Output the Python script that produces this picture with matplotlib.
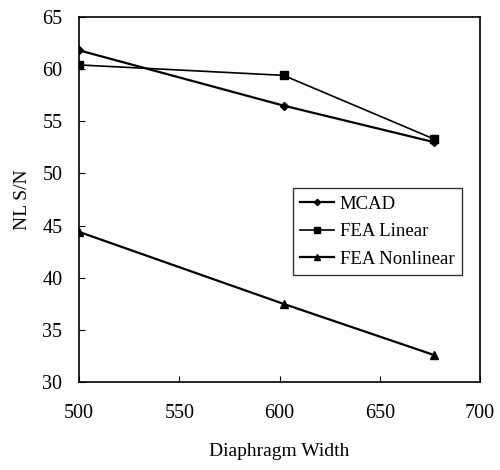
import matplotlib
matplotlib.use('Agg')
import matplotlib.pyplot as plt

plt.rcParams['font.family'] = ['Liberation Serif', 'DejaVu Serif']

width = [500, 602, 677]  # 隔膜宽度
mcad = [61.8, 56.5, 53.0]
fea_linear = [60.4, 59.4, 53.3]
fea_nonlinear = [44.4, 37.5, 32.6]

fig = plt.figure(figsize=(5, 4.7), dpi=100)
ax = fig.add_axes([0.158, 0.187, 0.802, 0.777])

ax.plot(width, mcad, 'k-', marker='D', markersize=4, lw=1.6, label='MCAD')
ax.plot(width, fea_linear, 'k-', marker='s', markersize=6, lw=1.2, label='FEA Linear')
ax.plot(width, fea_nonlinear, 'k-', marker='^', markersize=6, lw=1.6, label='FEA Nonlinear')

ax.set_xlim(500, 700)
ax.set_ylim(30, 65)
ax.set_xticks([500, 550, 600, 650, 700])
ax.set_yticks([30, 35, 40, 45, 50, 55, 60, 65])
ax.tick_params(direction='in', length=4, labelsize=14.5)
ax.tick_params(axis='x', pad=16)
ax.tick_params(axis='y', pad=12)
for s in ax.spines.values():
    s.set_linewidth(1.2)

ax.set_xlabel('Diaphragm Width', fontsize=14, labelpad=14)
ax.set_ylabel('NL S/N', fontsize=14, labelpad=8)

leg = ax.legend(loc='upper left', bbox_to_anchor=(0.51, 0.557), fontsize=13.5,
                frameon=True, fancybox=False, edgecolor='black',
                handlelength=1.8, borderpad=0.4, labelspacing=0.55, handletextpad=0.3,
                markerscale=0.8)
leg.get_frame().set_linewidth(1.0)

fig.savefig('out.png', dpi=100)
